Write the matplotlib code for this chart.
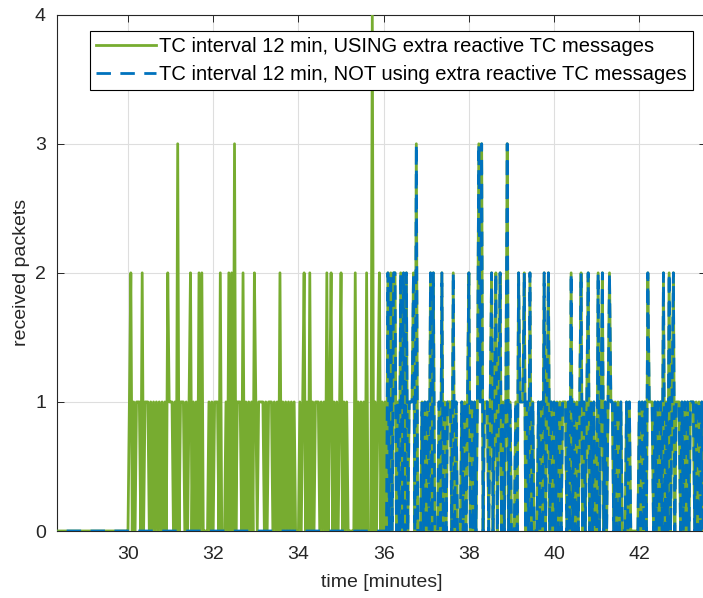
import numpy as np
import matplotlib
matplotlib.use("Agg")
import matplotlib.pyplot as plt

# ---------------- data ----------------
# received packets, sampled every 2 s (30 samples per minute), one string per minute
minutes = list(range(28, 44))
samples_per_minute = 30

green_minutes = [
    "000000000000000000000000000000",  # 28
    "000000000000000000000000000000",  # 29
    "012010111020111010101010101021",  # 30
    "110103011101012010102020000101",  # 31
    "011102000102020301110201010102",  # 32
    "101111010111010102010101010100",  # 33
    "010120102010111010102012010101",  # 34
    "201010000020101010200040101201",  # 35
    "010202022010202020111203000101",  # 36
    "010202000102010111020100010101",  # 37
    "201010131301110120120120101301",  # 38
    "000102111201020100010102012010",  # 39
    "101010111010201010120101201010",  # 40
    "020120101211010101000101000000",  # 41
    "101010211101010102010201201110",  # 42
    "101010111010101010101010101010",  # 43
]

blue_minutes = [
    "000000000000000000000000000000",  # 28
    "000000000000000000000000000000",  # 29
    "000000000000000000000000000000",  # 30
    "000000000000000000000000000000",  # 31
    "000000000000000000000000000000",  # 32
    "000000000000000000000000000000",  # 33
    "000000000000000000000000000000",  # 34
    "000000000000000000000000000000",  # 35
    "000202022010202020111203000101",  # 36
    "010202000102010111020100010101",  # 37
    "201010131301110120120120101301",  # 38
    "000102111201020100010102012010",  # 39
    "101010111010201010120101201010",  # 40
    "020120101211010101000101000000",  # 41
    "101010211101010102010201201110",  # 42
    "101010111010101010101010101010",  # 43
]

label_green = "TC interval 12 min, USING extra reactive TC messages"
label_blue = "TC interval 12 min, NOT using extra reactive TC messages"
x_ticks = [30, 32, 34, 36, 38, 40, 42]
y_ticks = [0, 1, 2, 3, 4]


def build(series):
    tt, vv = [], []
    for m, s in zip(minutes, series):
        assert len(s) == samples_per_minute, (m, len(s))
        for j, ch in enumerate(s):
            tt.append(m + j / samples_per_minute)
            vv.append(int(ch))
    return np.array(tt), np.array(vv)


t_g, v_g = build(green_minutes)
t_b, v_b = build(blue_minutes)

# ---------------- figure ----------------
plt.rcParams['font.family'] = ['Liberation Sans', 'DejaVu Sans']
plt.rcParams['path.simplify'] = False

W, H = 703, 598
fig = plt.figure(figsize=(W / 100, H / 100), dpi=100)
ax_l, ax_r, ax_t, ax_b = 57, 706, 14.7, 531
ax = fig.add_axes([ax_l / W, (H - ax_b) / H, (ax_r - ax_l) / W, (ax_b - ax_t) / H])

green = '#77AC30'
blue = '#0072BD'
dark = '#262626'

ax.plot(t_g, v_g, color=green, lw=2, label=label_green, zorder=3)
ax.plot(t_b, v_b, color=blue, lw=2, dashes=(5.2, 3.4), label=label_blue, zorder=4)

ax.set_xlim(28.334, 43.565)
ax.set_ylim(0, 4)
ax.set_xticks(x_ticks)
ax.set_yticks(y_ticks)

ax.grid(True, color='#dedede', lw=0.8)
ax.set_axisbelow(True)
ax.tick_params(direction='in', length=4.7, width=0.7, colors=dark,
               labelsize=14, top=True, right=True)
ax.tick_params(axis='x', pad=11)
ax.tick_params(axis='y', pad=8)
for sp in ax.spines.values():
    sp.set_color(dark)
    sp.set_linewidth(0.8)

ax.set_xlabel('time [minutes]', fontsize=14, color=dark, labelpad=7.5)
ax.set_ylabel('received packets', fontsize=14, color=dark, labelpad=3.5)

leg_right = (693 - ax_l) / (ax_r - ax_l)
leg_top = (ax_b - 31) / (ax_b - ax_t)
leg = ax.legend(loc='upper right', bbox_to_anchor=(leg_right, leg_top),
                borderaxespad=0, fontsize=14.5, fancybox=False, framealpha=1,
                edgecolor='black', handlelength=3.0, handletextpad=0.15,
                labelspacing=0.43, borderpad=0.3)
leg.get_frame().set_linewidth(0.8)
for txt in leg.get_texts():
    txt.set_color('black')

fig.savefig('out.png', dpi=100)
